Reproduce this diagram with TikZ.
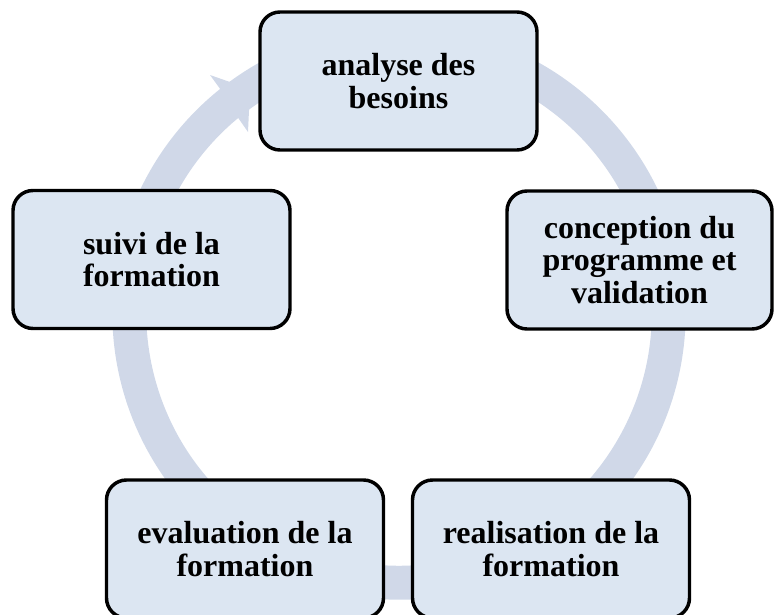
\documentclass[tikz,border=0pt]{standalone}
\usepackage{fontspec}
\setmainfont{Liberation Serif}
\usetikzlibrary{calc}
\definecolor{ringblue}{RGB}{208,216,232}
\definecolor{boxfill}{RGB}{220,230,242}
\begin{document}
\begin{tikzpicture}[x=0.75pt,y=0.75pt,
  stage/.style={draw=black, line width=2.6pt, fill=boxfill,
    rounded corners=15pt, minimum width=207.75pt, minimum height=103.5pt,
    align=center, inner sep=0pt,
    font=\fontsize{24}{24.5}\selectfont\bfseries}]
\useasboundingbox (0,0) rectangle (774,-614);
\coordinate (C) at (399,-313);
% circular arrow running clockwise behind the stages
\fill[ringblue] ($(C)+(128.6:286.7)$)
  arc[start angle=128.6, end angle=-255, radius=286.7]
  -- ($(C)+(-255:252.7)$)
  arc[start angle=-255, end angle=129.5, radius=252.7]
  -- (248,-132) -- (250,-89) -- (210,-75) -- cycle;
% stages of the cycle
\node[stage] (analyse) at (398.5,-81) {analyse des\\besoins};
\node[stage, minimum width=198.75pt] (conception) at (639.5,-260)
  {conception du\\programme et\\validation};
\node[stage] (realisation) at (551,-549) {realisation de la\\formation};
\node[stage] (evaluation) at (245,-549) {evaluation de la\\formation};
\node[stage] (suivi) at (151.5,-259.5) {suivi de la\\formation};
\end{tikzpicture}
\end{document}
